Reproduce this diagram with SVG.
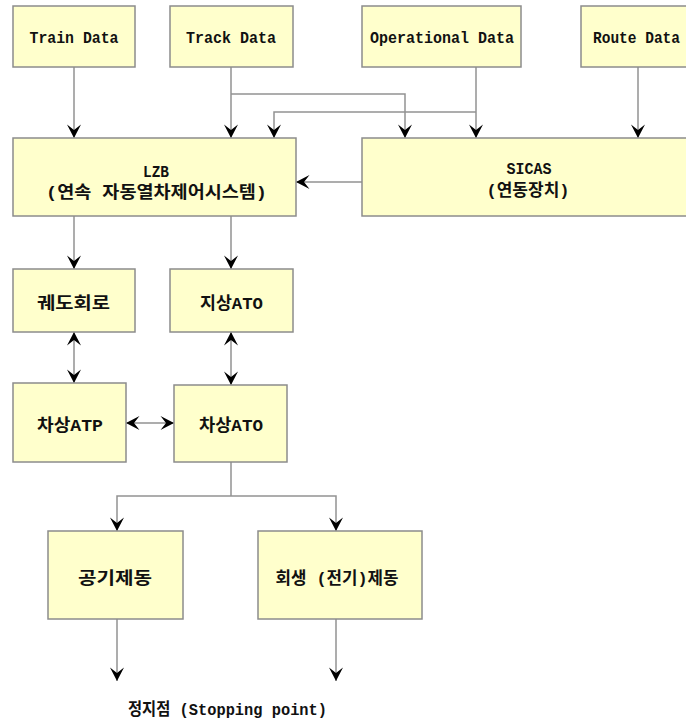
<svg xmlns="http://www.w3.org/2000/svg" width="686" height="722" viewBox="0 0 686 722">
<style>
.box{fill:#FFFFCC;stroke:#8C8C8C;stroke-width:1.5}
.t{font-family:"Liberation Mono","Noto Sans CJK KR",monospace;font-weight:bold;font-size:16.5px;fill:#111;text-anchor:middle}
.k{font-family:"Liberation Mono","Noto Sans CJK KR",monospace;font-weight:bold;font-size:17px;fill:#111;text-anchor:middle}
.c{fill:none;stroke:#929292;stroke-width:1.5}
.a{marker-end:url(#ah)}
.b{marker-start:url(#ah);marker-end:url(#ah)}
</style>
<defs>
<marker id="ah" markerUnits="userSpaceOnUse" viewBox="-15 -8 16 16" refX="0" refY="0" markerWidth="16" markerHeight="16" orient="auto-start-reverse">
<path d="M0,0 L-13.5,-7 L-8,0 L-13.5,7 Z" fill="#000"/>
</marker>
</defs>
<rect width="686" height="722" fill="#fff"/>
<g id="connectors">
<path class="c a" d="M74,67 V138"/>
<path class="c a" d="M231,67 V138"/>
<path class="c a" d="M231,94 H405 V138"/>
<path class="c a" d="M476,67 V138"/>
<path class="c a" d="M476,112 H274 V138"/>
<path class="c a" d="M638,67 V138"/>
<path class="c a" d="M362,182 H296"/>
<path class="c a" d="M74,216 V269"/>
<path class="c a" d="M231,216 V269"/>
<path class="c b" d="M74,332 V383"/>
<path class="c b" d="M231,332 V385"/>
<path class="c b" d="M126,423 H174"/>
<path class="c" d="M231,462 V496"/>
<path class="c a" d="M231,496 H117 V531"/>
<path class="c a" d="M231,496 H336 V531"/>
<path class="c a" d="M117,619 V681"/>
<path class="c a" d="M336,619 V681"/>
</g>
<g id="train-data"><rect class="box" x="13" y="6" width="122" height="61"/><text class="t" x="74" y="43" textLength="89" lengthAdjust="spacingAndGlyphs">Train Data</text></g>
<g id="track-data"><rect class="box" x="170" y="6" width="123" height="61"/><text class="t" x="231" y="43" textLength="90" lengthAdjust="spacingAndGlyphs">Track Data</text></g>
<g id="operational-data"><rect class="box" x="362" y="6" width="159" height="61"/><text class="t" x="442" y="43" textLength="144" lengthAdjust="spacingAndGlyphs">Operational Data</text></g>
<g id="route-data"><rect class="box" x="581" y="6" width="110" height="61"/><text class="t" x="636.5" y="43" textLength="87" lengthAdjust="spacingAndGlyphs">Route Data</text></g>
<g id="lzb"><rect class="box" x="13" y="138" width="283" height="78"/><text class="t" x="156" y="177" textLength="26" lengthAdjust="spacingAndGlyphs">LZB</text><text class="k" x="156.5" y="198" textLength="221" lengthAdjust="spacingAndGlyphs">(연속 자동열차제어시스템)</text></g>
<g id="sicas"><rect class="box" x="362" y="138" width="330" height="78"/><text class="t" x="529" y="174" textLength="45" lengthAdjust="spacingAndGlyphs">SICAS</text><text class="k" x="528" y="196" textLength="83" lengthAdjust="spacingAndGlyphs">(연동장치)</text></g>
<g id="track-circuit"><rect class="box" x="13" y="269" width="122" height="63"/><text class="k" x="73.5" y="309" textLength="73" lengthAdjust="spacingAndGlyphs">궤도회로</text></g>
<g id="wayside-ato"><rect class="box" x="170" y="269" width="123" height="63"/><text class="k" x="231.5" y="309" textLength="63" lengthAdjust="spacingAndGlyphs">지상ATO</text></g>
<g id="onboard-atp"><rect class="box" x="13" y="383" width="113" height="79"/><text class="k" x="70" y="431" textLength="66" lengthAdjust="spacingAndGlyphs">차상ATP</text></g>
<g id="onboard-ato"><rect class="box" x="174" y="385" width="113" height="77"/><text class="k" x="231" y="431" textLength="64" lengthAdjust="spacingAndGlyphs">차상ATO</text></g>
<g id="air-brake"><rect class="box" x="48" y="531" width="135" height="88"/><text class="k" x="115" y="584" textLength="74" lengthAdjust="spacingAndGlyphs">공기제동</text></g>
<g id="regen-brake"><rect class="box" x="258" y="531" width="164" height="88"/><text class="k" x="337" y="584" textLength="123" lengthAdjust="spacingAndGlyphs">회생 (전기)제동</text></g>
<g id="stopping-point"><text class="k" x="227.5" y="715" textLength="199" lengthAdjust="spacingAndGlyphs">정지점 (Stopping point)</text></g>
</svg>
